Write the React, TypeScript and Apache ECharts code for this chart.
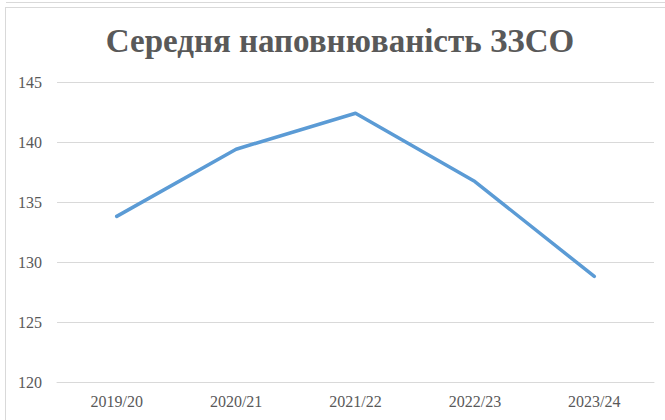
import React, { useEffect, useRef } from "react";
import * as echarts from "echarts";

const categories = ["2019/20", "2020/21", "2021/22", "2022/23", "2023/24"];
const values = [133.8, 139.4, 142.4, 136.7, 128.8];
const titleText = "Середня наповнюваність ЗЗСО";

export default function App() {
  const ref = useRef<HTMLDivElement>(null);
  useEffect(() => {
    if (!ref.current) return;
    const chart = echarts.init(ref.current, undefined, { renderer: "svg" });
    const border = "#d9d9d9";
    chart.setOption({
      animation: false,
      backgroundColor: "#ffffff",
      grid: { left: 57, right: 11, top: 82, bottom: 38 },
      xAxis: {
        type: "category",
        data: categories,
        boundaryGap: true,
        axisLine: { show: true, lineStyle: { color: border, width: 1 } },
        axisTick: { show: false },
        axisLabel: {
          color: "#595959",
          fontFamily: "serif",
          fontSize: 16,
          margin: 11,
        },
      },
      yAxis: {
        type: "value",
        min: 120,
        max: 145,
        interval: 5,
        axisLine: { show: false },
        axisTick: { show: false },
        splitLine: { lineStyle: { color: border, width: 1 } },
        axisLabel: {
          color: "#595959",
          fontFamily: "serif",
          fontSize: 16,
          margin: 15,
        },
      },
      series: [
        {
          type: "line",
          data: values,
          symbol: "none",
          lineStyle: { color: "#5B9BD5", width: 3.5, cap: "round", join: "round" },
        },
      ],
      graphic: [
        { type: "line", shape: { x1: 6, y1: 2.5, x2: 665, y2: 2.5 }, style: { stroke: border, lineWidth: 1 } },
        { type: "line", shape: { x1: 5, y1: 7.5, x2: 665, y2: 7.5 }, style: { stroke: border, lineWidth: 1 } },
        { type: "line", shape: { x1: 5.5, y1: 7, x2: 5.5, y2: 420 }, style: { stroke: border, lineWidth: 1 } },
        {
          type: "text",
          x: 340,
          y: 24,
          style: {
            text: titleText,
            fill: "#595959",
            fontFamily: "serif",
            fontWeight: "bold",
            fontSize: 33,
            align: "center",
          },
        },
      ],
    });
    return () => chart.dispose();
  }, []);
  return (
    <div
      ref={ref}
      style={{ position: "fixed", left: 0, top: 0, width: 665, height: 420 }}
    />
  );
}
